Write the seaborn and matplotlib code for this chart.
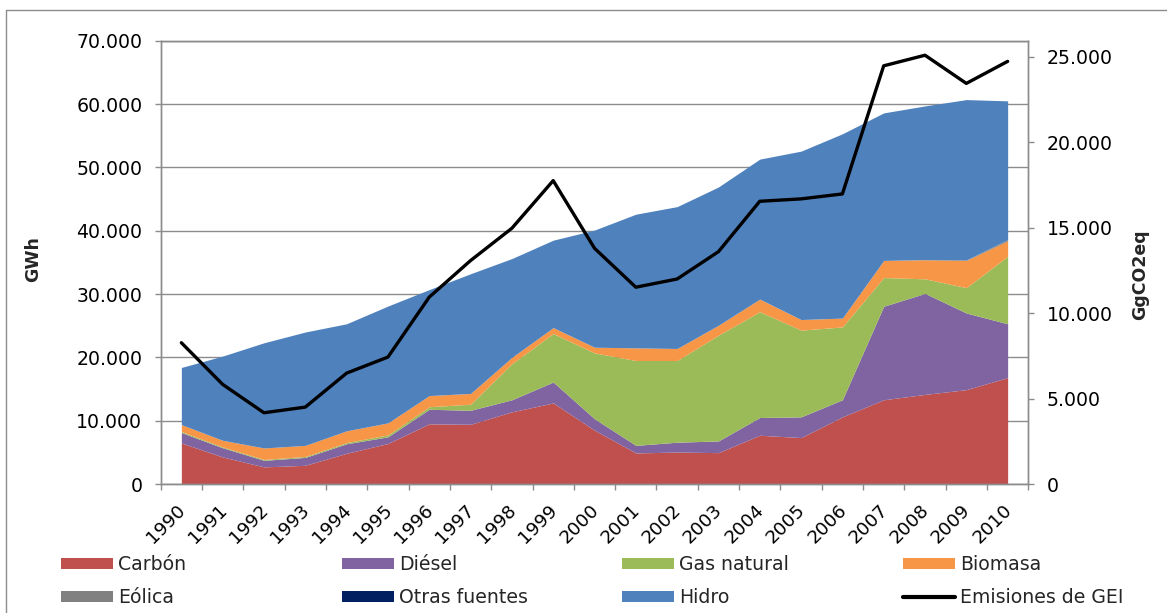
import matplotlib
matplotlib.use("Agg")
import matplotlib.pyplot as plt
import matplotlib.transforms as mtransforms
import seaborn as sns
import pandas as pd
from matplotlib.ticker import FuncFormatter, FixedLocator
from matplotlib.lines import Line2D
from matplotlib.patches import Patch

# Generación eléctrica por fuente (GWh) y emisiones (GgCO2eq)
years = ["1990", "1991", "1992", "1993", "1994", "1995", "1996", "1997", "1998", "1999", "2000",
         "2001", "2002", "2003", "2004", "2005", "2006", "2007", "2008", "2009", "2010"]
carbon = [6480, 4270, 2700, 2950, 4850, 6400, 9500, 9430, 11400, 12800, 8500,
          4900, 5050, 4950, 7700, 7330, 10600, 13300, 14150, 14900, 16800]
diesel = [1640, 1450, 1040, 1250, 1500, 1050, 2300, 2210, 1900, 3300, 1800,
          1200, 1550, 1850, 2800, 3270, 2700, 14770, 15950, 12100, 8500]
gas_natural = [180, 130, 140, 150, 200, 300, 400, 960, 5700, 7660, 10400,
               13400, 12900, 16700, 16700, 13700, 11500, 4530, 2300, 4000, 10670]
biomasa = [1080, 1050, 1810, 1750, 1850, 1900, 1770, 1700, 1000, 940, 900,
           2000, 1900, 1570, 2000, 1670, 1400, 2700, 3000, 4300, 2430]
eolica = [0, 0, 0, 0, 0, 0, 0, 0, 0, 0, 0,
          0, 0, 0, 0, 0, 0, 0, 50, 100, 200]
otras_fuentes = [0, 0, 0, 0, 0, 0, 0, 0, 0, 0, 0,
                 0, 0, 0, 0, 0, 0, 0, 0, 0, 0]
hidro = [9020, 13300, 16610, 17900, 16900, 18450, 16730, 18900, 15600, 13800, 18500,
         21100, 22400, 21830, 22100, 26590, 29100, 23300, 24250, 25300, 21900]
emisiones = [8270, 5830, 4170, 4500, 6490, 7430, 10940, 13080, 14970, 17760, 13800,
             11520, 12000, 13600, 16550, 16690, 16980, 24480, 25100, 23450, 24740]

series_names = ["Carbón", "Diésel", "Gas natural", "Biomasa", "Eólica", "Otras fuentes", "Hidro"]
series_values = [carbon, diesel, gas_natural, biomasa, eolica, otras_fuentes, hidro]
colors = ["#C0504D", "#8064A2", "#9BBB59", "#F79646", "#808080", "#002060", "#4F81BD"]

sns.set_theme(style="white")
plt.rcParams["font.family"] = ["DejaVu Sans"]

W, H = 1167, 613
fig = plt.figure(figsize=(W / 100, H / 100), dpi=100)
ax = fig.add_axes([160.7 / W, 1 - 484 / H, (1028.3 - 160.7) / W, (484 - 40.7) / H])

x = list(range(len(years)))
grid_c = "#8C8C8C"

ax.stackplot(x, *series_values, colors=colors, labels=series_names, linewidth=0, zorder=2)
ax.set_xlim(-0.5, len(years) - 0.5)
ax.set_ylim(0, 70000)
ax.set_yticks(range(0, 70001, 10000))
ax.yaxis.grid(True, color=grid_c, linewidth=1.0)
ax.set_axisbelow(True)

fmt = FuncFormatter(lambda v, p: f"{v:,.0f}".replace(",", "."))
ax.yaxis.set_major_formatter(fmt)
ax.tick_params(axis="y", which="major", left=True, length=4, width=1, color=grid_c,
               labelsize=13.6, pad=9.2, labelcolor="black")

ax.set_xticks(x)
ax.set_xticklabels(years, rotation=45, ha="right", va="top", rotation_mode="anchor")
ax.xaxis.set_minor_locator(FixedLocator([i - 0.5 for i in range(len(years) + 1)]))
ax.tick_params(axis="x", which="major", bottom=True, length=0, labelsize=13.2, pad=7, labelcolor="black")
ax.tick_params(axis="x", which="minor", bottom=True, length=4.3, width=1, color=grid_c)
shift = mtransforms.ScaledTranslation(-5 / 100, -7 / 100, fig.dpi_scale_trans)
for lab in ax.get_xticklabels():
    lab.set_transform(lab.get_transform() + shift)

for side in ["left", "right", "bottom", "top"]:
    ax.spines[side].set_color(grid_c)
    ax.spines[side].set_linewidth(1.0)

ax2 = ax.twinx()
df_em = pd.DataFrame({"x": x, "Emisiones de GEI": emisiones})
sns.lineplot(data=df_em, x="x", y="Emisiones de GEI", ax=ax2, color="black", linewidth=2.4, zorder=5)
ax2.set_ylim(0, 25950)
ax2.set_yticks(range(0, 25001, 5000))
ax2.yaxis.set_major_formatter(fmt)
ax2.tick_params(axis="y", right=True, length=4.3, width=1, color=grid_c, labelsize=13.6, pad=9.0,
                labelcolor="black")
ax2.set_ylabel("")
ax2.set_xlabel("")
ax.set_xlabel("")
for side in ["left", "right", "bottom", "top"]:
    ax2.spines[side].set_color(grid_c)
    ax2.spines[side].set_linewidth(1.0)

fig.text(33.5 / W, 1 - 259.5 / H, "GWh", rotation=90, ha="center", va="center",
         fontsize=12.5, fontweight="bold")
fig.text(1140 / W, 1 - 275 / H, "GgCO2eq", rotation=90, ha="center", va="center",
         fontsize=12.5, fontweight="bold")

# Leyenda en cuatro columnas
handles = [Patch(facecolor=c, edgecolor="none", label=n) for c, n in zip(colors, series_names)]
handles.append(Line2D([0], [0], color="black", linewidth=3, label="Emisiones de GEI"))
columns = [[handles[0], handles[4]], [handles[1], handles[5]],
           [handles[2], handles[6]], [handles[3], handles[7]]]
col_x = [61, 342, 622, 903]
for cx, hs in zip(col_x, columns):
    fig.legend(handles=hs, loc="upper left", bbox_to_anchor=(cx / W, 1 - 555 / H),
               frameon=False, fontsize=13.6, handlelength=2.75, handleheight=0.55,
               handletextpad=0.27, labelspacing=0.75, borderpad=0, borderaxespad=0)

# Marco exterior
fig.add_artist(Line2D([6 / W, 1], [1 - 10 / H, 1 - 10 / H], color=grid_c, linewidth=1.0,
                      transform=fig.transFigure))
fig.add_artist(Line2D([6 / W, 6 / W], [1 - 10 / H, 0], color=grid_c, linewidth=1.0,
                      transform=fig.transFigure))

fig.savefig("out.png", dpi=100, facecolor="white")
